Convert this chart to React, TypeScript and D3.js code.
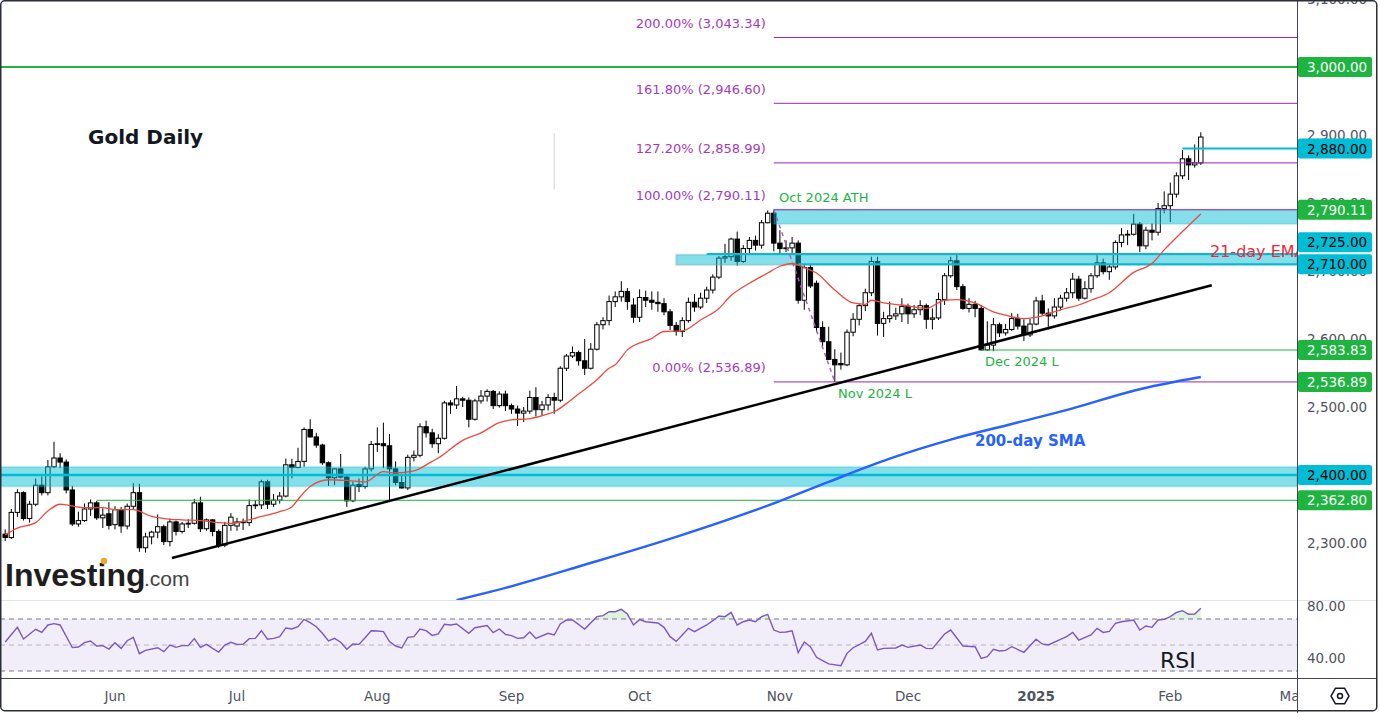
import * as d3 from "d3";

// daily candles, [open, high, low, close]
type Bar = [number, number, number, number];

const may: Bar[] = [
  [2313, 2320, 2303, 2308], [2308, 2350, 2306, 2345], [2345, 2379, 2338, 2374],
  [2374, 2376, 2333, 2336], [2336, 2362, 2330, 2357], [2357, 2395, 2354, 2385],
  [2385, 2398, 2370, 2374], [2374, 2422, 2370, 2412], [2412, 2449, 2410, 2425],
  [2425, 2432, 2410, 2419], [2419, 2423, 2373, 2378], [2378, 2384, 2325, 2328],
  [2328, 2346, 2324, 2333], [2333, 2358, 2331, 2350], [2350, 2364, 2340, 2359],
  [2359, 2362, 2334, 2337], [2337, 2351, 2322, 2341], [2343, 2360, 2320, 2326],
];
const jun: Bar[] = [
  [2327, 2354, 2320, 2349], [2349, 2353, 2315, 2325], [2325, 2358, 2320, 2354],
  [2354, 2388, 2350, 2374], [2374, 2387, 2287, 2293], [2293, 2315, 2286, 2309],
  [2309, 2318, 2298, 2316], [2316, 2342, 2307, 2324], [2324, 2327, 2297, 2302],
  [2302, 2336, 2295, 2331], [2331, 2333, 2311, 2317], [2317, 2331, 2314, 2328],
  [2328, 2335, 2322, 2329], [2329, 2365, 2327, 2359], [2359, 2368, 2316, 2321],
  [2321, 2336, 2318, 2334], [2334, 2335, 2310, 2317], [2317, 2320, 2293, 2297],
  [2297, 2331, 2294, 2326], [2326, 2344, 2318, 2338],
];
const jul: Bar[] = [
  [2325, 2337, 2318, 2331], [2331, 2336, 2319, 2330], [2330, 2364, 2325, 2355],
  [2355, 2363, 2350, 2356], [2356, 2393, 2350, 2390], [2390, 2393, 2350, 2357],
  [2357, 2372, 2353, 2363], [2363, 2375, 2358, 2369], [2369, 2424, 2367, 2415],
  [2415, 2424, 2395, 2411], [2411, 2440, 2410, 2420], [2420, 2470, 2412, 2467],
  [2467, 2482, 2455, 2456], [2456, 2462, 2440, 2444], [2444, 2446, 2415, 2418],
  [2418, 2420, 2384, 2396], [2396, 2410, 2385, 2409], [2409, 2431, 2395, 2397],
  [2397, 2400, 2353, 2362], [2362, 2390, 2360, 2385], [2386, 2395, 2375, 2383],
  [2383, 2412, 2380, 2409], [2409, 2450, 2405, 2445],
];
const aug: Bar[] = [
  [2445, 2470, 2434, 2446], [2446, 2477, 2410, 2443], [2443, 2460, 2363, 2409],
  [2409, 2420, 2385, 2389], [2389, 2402, 2380, 2381], [2381, 2430, 2378, 2426],
  [2426, 2436, 2420, 2429], [2429, 2476, 2426, 2471], [2471, 2480, 2455, 2462],
  [2462, 2468, 2440, 2446], [2446, 2460, 2432, 2454], [2454, 2509, 2452, 2506],
  [2506, 2510, 2490, 2503], [2503, 2531, 2497, 2512], [2512, 2515, 2500, 2510],
  [2510, 2514, 2470, 2482], [2482, 2512, 2480, 2509], [2509, 2525, 2505, 2516],
  [2516, 2526, 2508, 2523], [2523, 2525, 2497, 2502], [2502, 2523, 2499, 2519],
  [2519, 2524, 2494, 2502],
];
const sep: Bar[] = [
  [2502, 2505, 2490, 2497], [2497, 2502, 2472, 2491], [2491, 2500, 2478, 2494],
  [2494, 2524, 2490, 2514], [2514, 2529, 2486, 2496], [2496, 2509, 2488, 2503],
  [2503, 2519, 2495, 2514], [2514, 2521, 2490, 2510], [2510, 2560, 2507, 2557],
  [2557, 2578, 2553, 2575], [2575, 2589, 2572, 2580], [2580, 2583, 2561, 2568],
  [2568, 2600, 2547, 2557], [2557, 2594, 2555, 2585], [2585, 2625, 2583, 2621],
  [2621, 2632, 2614, 2627], [2627, 2664, 2620, 2655], [2655, 2670, 2647, 2662],
  [2662, 2685, 2655, 2670], [2670, 2675, 2643, 2655], [2650, 2660, 2624, 2632],
];
const oct: Bar[] = [
  [2632, 2673, 2625, 2661], [2661, 2671, 2647, 2657], [2657, 2670, 2643, 2654],
  [2654, 2670, 2640, 2652], [2652, 2660, 2635, 2640], [2640, 2644, 2613, 2620],
  [2620, 2625, 2605, 2611], [2611, 2632, 2603, 2627], [2627, 2661, 2624, 2654],
  [2654, 2666, 2640, 2647], [2647, 2668, 2644, 2660], [2660, 2677, 2653, 2672],
  [2672, 2695, 2667, 2691], [2691, 2722, 2688, 2719], [2719, 2740, 2712, 2721],
  [2721, 2749, 2715, 2747], [2747, 2758, 2708, 2714], [2714, 2738, 2712, 2733],
  [2733, 2750, 2725, 2745], [2745, 2752, 2730, 2738], [2738, 2775, 2733, 2771],
  [2771, 2789, 2770, 2785], [2785, 2790, 2729, 2741],
];
const nov: Bar[] = [
  [2741, 2760, 2725, 2733], [2733, 2745, 2728, 2734], [2734, 2750, 2725, 2741],
  [2741, 2745, 2652, 2657], [2657, 2710, 2643, 2705], [2705, 2709, 2675, 2678],
  [2682, 2686, 2610, 2617], [2617, 2626, 2589, 2596], [2596, 2618, 2569, 2570],
  [2570, 2585, 2537, 2562], [2564, 2580, 2555, 2562], [2562, 2614, 2560, 2610],
  [2610, 2638, 2604, 2629], [2629, 2652, 2620, 2649], [2649, 2674, 2641, 2668],
  [2668, 2721, 2663, 2714], [2714, 2721, 2605, 2623], [2623, 2640, 2603, 2630],
  [2630, 2655, 2624, 2634], [2634, 2646, 2628, 2637], [2637, 2660, 2625, 2648],
];
const dec: Bar[] = [
  [2648, 2652, 2622, 2637], [2637, 2650, 2631, 2643], [2643, 2657, 2635, 2649],
  [2649, 2652, 2615, 2629], [2629, 2645, 2614, 2631], [2631, 2668, 2628, 2658],
  [2658, 2697, 2650, 2693], [2693, 2721, 2690, 2715], [2715, 2726, 2672, 2677],
  [2677, 2681, 2643, 2645], [2645, 2660, 2639, 2651], [2651, 2656, 2632, 2645],
  [2645, 2650, 2583, 2584], [2584, 2626, 2583, 2591], [2591, 2631, 2582, 2621],
  [2621, 2624, 2603, 2609], [2609, 2622, 2605, 2614], [2614, 2638, 2612, 2630],
  [2630, 2637, 2614, 2619], [2619, 2629, 2597, 2606], [2606, 2630, 2603, 2622],
];
const jan: Bar[] = [
  [2622, 2662, 2620, 2656], [2656, 2665, 2635, 2638], [2638, 2645, 2614, 2634],
  [2634, 2660, 2630, 2647], [2647, 2665, 2642, 2660], [2660, 2675, 2655, 2668],
  [2668, 2697, 2660, 2688], [2688, 2693, 2656, 2660], [2660, 2685, 2658, 2674],
  [2674, 2697, 2668, 2693], [2693, 2724, 2690, 2712], [2712, 2718, 2695, 2699],
  [2699, 2710, 2687, 2706], [2706, 2745, 2702, 2742], [2742, 2763, 2735, 2753],
  [2753, 2760, 2738, 2754], [2754, 2784, 2752, 2769], [2769, 2772, 2728, 2737],
  [2737, 2765, 2732, 2760], [2760, 2770, 2745, 2757], [2757, 2800, 2752, 2792],
  [2792, 2817, 2785, 2796],
];
const feb: Bar[] = [
  [2796, 2830, 2772, 2813], [2813, 2845, 2808, 2840], [2840, 2878, 2835, 2865],
  [2865, 2870, 2834, 2856], [2856, 2886, 2852, 2859], [2859, 2904, 2856, 2897],
];

const START_DATE = new Date(2024, 4, 8);
const CLOSED_DAYS = ["2024-12-25", "2025-01-01"];

// indicator readings: [bar index, value]
const ema21: [number, number][] = [
  [0, 2312], [2, 2322], [5, 2330], [7, 2347], [9, 2357], [10, 2356], [13, 2352],
  [16, 2352], [18, 2349], [21, 2349], [24, 2339], [26, 2336], [29, 2334], [32, 2333],
  [35, 2330], [37, 2329], [40, 2334], [42, 2339], [45, 2346], [47, 2353], [48, 2364],
  [50, 2383], [53, 2393], [56, 2392], [59, 2390], [62, 2405], [64, 2403], [67, 2406],
  [70, 2420], [71, 2425], [75, 2451], [78, 2462], [81, 2477], [83, 2481], [86, 2483],
  [89, 2490], [90, 2493], [92, 2505], [94, 2519], [97, 2540], [99, 2557], [100, 2562],
  [102, 2584], [106, 2601], [108, 2611], [111, 2612], [114, 2628], [117, 2645],
  [119, 2664], [122, 2682], [125, 2697], [127, 2707], [129, 2711], [131, 2705],
  [133, 2697], [136, 2672], [139, 2653], [141, 2651], [142, 2657], [144, 2653],
  [147, 2650], [151, 2645], [154, 2657], [156, 2658], [159, 2653], [162, 2640],
  [164, 2635], [167, 2630], [170, 2634], [173, 2643], [176, 2650], [178, 2657],
  [181, 2668], [185, 2698], [188, 2711], [190, 2731], [193, 2758], [196, 2784],
];
const sma200: [number, number][] = [
  [74, 2216], [82, 2234], [95, 2268], [110, 2309], [125, 2355], [135, 2390],
  [145, 2424], [155, 2452], [165, 2475], [175, 2498], [185, 2524], [196, 2544],
];
const rsi14: [number, number][] = [
  [0, 52.3], [2, 63.6], [3, 54.6], [5, 62.1], [6, 59.7], [7, 65.4], [8, 66.4], [9, 65.4],
  [11, 48.0], [12, 48.5], [13, 51.8], [14, 53.1], [15, 49.2], [16, 49.5], [17, 46.9],
  [18, 51.8], [19, 47.4], [20, 53.3], [21, 55.9], [22, 43.3], [23, 45.9], [25, 47.9],
  [26, 44.9], [27, 50.0], [28, 48.2], [29, 49.5], [30, 49.5], [31, 54.9], [32, 48.2],
  [33, 50.5], [34, 47.4], [35, 44.6], [36, 50.0], [37, 52.1], [38, 50.5], [39, 50.5],
  [40, 54.9], [41, 55.1], [42, 61.0], [43, 54.4], [44, 55.1], [45, 56.4], [46, 63.1],
  [47, 62.3], [48, 64.1], [49, 69.7], [50, 67.2], [51, 64.1], [52, 59.0], [53, 53.1],
  [54, 55.1], [55, 52.1], [56, 46.7], [57, 50.8], [58, 50.5], [59, 55.6], [60, 61.0],
  [61, 60.8], [62, 60.3], [63, 52.6], [64, 49.2], [65, 47.7], [66, 55.9], [67, 56.4],
  [68, 62.3], [69, 61.0], [70, 57.4], [71, 58.5], [72, 65.9], [73, 65.4], [74, 66.2],
  [76, 59.0], [77, 63.3], [79, 64.9], [80, 59.5], [81, 62.3], [82, 58.2], [83, 57.2],
  [84, 55.1], [85, 55.6], [86, 60.0], [87, 55.1], [89, 59.0], [90, 57.7], [91, 66.2],
  [92, 69.2], [93, 69.2], [95, 62.3], [97, 71.8], [98, 72.6], [99, 75.6], [100, 75.6],
  [101, 77.4], [102, 73.8], [103, 65.4], [104, 69.5], [105, 67.9], [107, 66.9],
  [108, 63.6], [109, 56.4], [110, 52.8], [111, 57.7], [112, 62.8], [113, 60.3],
  [115, 65.4], [116, 68.7], [117, 72.3], [118, 71.8], [119, 75.1], [120, 65.4],
  [121, 67.9], [122, 69.2], [123, 67.9], [124, 71.8], [125, 73.6], [126, 61.5],
  [127, 59.7], [128, 60.0], [129, 61.0], [130, 44.1], [131, 52.3], [132, 48.7],
  [133, 40.5], [134, 38.0], [135, 35.5], [137, 34.1], [138, 43.6], [139, 47.9],
  [141, 52.8], [142, 59.0], [143, 46.2], [144, 47.4], [146, 47.7], [147, 50.0],
  [148, 48.2], [150, 50.0], [151, 47.4], [152, 47.2], [154, 58.5], [155, 61.5],
  [157, 49.2], [159, 48.7], [160, 39.7], [161, 41.0], [162, 46.7], [163, 45.4],
  [164, 45.9], [165, 48.7], [167, 44.4], [169, 54.4], [170, 50.8], [171, 50.0],
  [173, 54.4], [174, 56.4], [175, 59.7], [176, 53.8], [178, 57.7], [179, 62.8],
  [180, 59.7], [181, 60.5], [182, 66.7], [183, 67.9], [185, 69.2], [186, 61.5],
  [187, 64.6], [188, 63.6], [189, 69.2], [190, 69.7], [191, 71.8], [192, 75.0],
  [193, 76.4], [194, 73.6], [195, 73.8], [196, 78.2],
];

// fibonacci extension drawn from the Oct high to the Nov low
const fibLevels = [
  { pct: "200.00%", value: 3043.34 },
  { pct: "161.80%", value: 2946.6 },
  { pct: "127.20%", value: 2858.99 },
  { pct: "100.00%", value: 2790.11 },
  { pct: "0.00%", value: 2536.89 },
];
const FIB_FROM = 126; // Oct 31 high
const FIB_TO = 136; // Nov 14 low

const priceLabels = [
  { value: 3000, kind: "green" },
  { value: 2880, kind: "cyan" },
  { value: 2790.11, kind: "green" },
  { value: 2725, kind: "cyan" },
  { value: 2710, kind: "cyan" },
  { value: 2583.83, kind: "green" },
  { value: 2536.89, kind: "green" },
  { value: 2400, kind: "cyan" },
  { value: 2362.8, kind: "green" },
];
const priceTicks = [2300, 2400, 2500, 2600, 2700, 2800, 2900, 3000, 3100];
const rsiTicks = [40, 80];

const FONT = "DejaVu Sans";
const GREEN = "#1db43f";
const CYAN = "#00bcd4";
const PURPLE = "#9c27b0";
const PLOT_W = 1297;
const MAIN_H = 600;
const RSI_TOP = 600;
const RSI_BOT = 678;

export default function App() {
  const bars = [...may, ...jun, ...jul, ...aug, ...sep, ...oct, ...nov, ...dec, ...jan, ...feb];
  const n = bars.length;
  const fmtDay = d3.timeFormat("%Y-%m-%d");

  // trading days (weekdays) including a few future slots for the axis
  const dates: Date[] = [];
  const d = new Date(START_DATE);
  while (dates.length < n + 20) {
    const wd = d.getDay();
    if (wd !== 0 && wd !== 6 && !CLOSED_DAYS.includes(fmtDay(d))) dates.push(new Date(d));
    d.setDate(d.getDate() + 1);
  }

  const x = d3.scaleLinear().domain([0, n - 1]).range([5.2, 1200.8]);
  const y = d3.scaleLinear().domain([2300, 2900]).range([543, 135]);
  const yr = d3.scaleLinear().domain([30, 70]).range([671, 619]);
  const fmtPrice = d3.format(",.2f");

  const monthTicks: { i: number; label: string; bold: boolean }[] = [];
  for (let i = 1; i < dates.length; i++) {
    if (dates[i].getMonth() !== dates[i - 1].getMonth()) {
      const jan1 = dates[i].getMonth() === 0;
      monthTicks.push({ i, label: jan1 ? String(dates[i].getFullYear()) : d3.timeFormat("%b")(dates[i]), bold: jan1 });
    }
  }

  const emaPath = d3.line<[number, number]>().x((p) => x(p[0])).y((p) => y(p[1])).curve(d3.curveMonotoneX)(ema21)!;
  const smaPath = d3.line<[number, number]>().x((p) => x(p[0])).y((p) => y(p[1])).curve(d3.curveMonotoneX)(sma200)!;
  const rsiPath = d3.line<[number, number]>().x((p) => x(p[0])).y((p) => yr(p[1]))(rsi14)!;
  const rsiArea = d3.area<[number, number]>().x((p) => x(p[0])).y0(yr(70)).y1((p) => yr(p[1]))(rsi14)!;

  // stack the right-hand price labels so they do not overlap
  const placed = priceLabels
    .map((l) => ({ ...l, cy: y(l.value) }))
    .sort((a, b) => b.cy - a.cy);
  for (let i = 1; i < placed.length; i++) {
    if (placed[i - 1].cy - placed[i].cy < 22) placed[i].cy = placed[i - 1].cy - 22;
  }

  const trendA: [number, number] = [27.34, 2278];
  const trendB: [number, number] = [197.8, 2679];

  return (
    <svg width={1380} height={713} style={{ position: "absolute", left: 0, top: 0, background: "#fff" }} fontFamily={FONT}>
      <defs>
        <clipPath id="main"><rect x={0} y={0} width={PLOT_W} height={MAIN_H} /></clipPath>
        <clipPath id="rsi"><rect x={0} y={RSI_TOP} width={PLOT_W} height={RSI_BOT - RSI_TOP} /></clipPath>
        <clipPath id="ob"><rect x={0} y={RSI_TOP} width={PLOT_W} height={yr(70) - RSI_TOP} /></clipPath>
        <clipPath id="time"><rect x={0} y={RSI_BOT} width={PLOT_W} height={713 - RSI_BOT} /></clipPath>
      </defs>
      <rect x={0} y={0} width={1380} height={713} fill="#fff" />

      <g clipPath="url(#main)">
        {/* watermark */}
        <text x={5} y={586} fontFamily="Liberation Sans" fontWeight="bold" fontSize={32} fill="#1e1e1e">Investing</text>
        <circle cx={104} cy={561} r={3.2} fill="#f5a623" />
        <text x={144} y={586} fontFamily="Liberation Sans" fontSize={21} fill="#444">.com</text>

        <text x={88} y={137} fontWeight="bold" fontSize={20} fill="#131722" dominantBaseline="central">Gold Daily</text>

        {/* candles */}
        {bars.map(([o, h, l, c], i) => {
          const cx = x(i);
          const top = y(Math.max(o, c));
          const bot = y(Math.min(o, c));
          return (
            <g key={i}>
              <line x1={cx} x2={cx} y1={y(h)} y2={y(l)} stroke="#000" strokeWidth={1} />
              <rect x={cx - 2.2} y={top} width={4.4} height={Math.max(bot - top, 0.8)} fill={c >= o ? "#fff" : "#000"} stroke="#000" strokeWidth={1} />
            </g>
          );
        })}

        {/* zones */}
        <rect x={0} y={y(2412)} width={PLOT_W} height={y(2383) - y(2412)} fill="rgba(0,188,212,0.48)" stroke="rgba(0,188,212,0.2)" strokeWidth={2} />
        <rect x={x(FIB_FROM)} y={y(2790.11)} width={PLOT_W - x(FIB_FROM)} height={y(2769) - y(2790.11)} fill="rgba(0,188,212,0.48)" stroke="rgba(0,188,212,0.2)" strokeWidth={2} />
        <rect x={x(110)} y={y(2724)} width={PLOT_W - x(110)} height={y(2709) - y(2724)} fill="rgba(0,188,212,0.48)" stroke="rgba(120,160,180,0.35)" strokeWidth={2} />

        {/* horizontal levels */}
        <line x1={0} x2={PLOT_W} y1={y(3000)} y2={y(3000)} stroke={GREEN} strokeWidth={2} />
        <line x1={0} x2={PLOT_W} y1={y(2400)} y2={y(2400)} stroke={CYAN} strokeWidth={2.5} />
        <line x1={x(115)} x2={PLOT_W} y1={y(2725)} y2={y(2725)} stroke={CYAN} strokeWidth={2} />
        <line x1={x(130)} x2={PLOT_W} y1={y(2710)} y2={y(2710)} stroke={CYAN} strokeWidth={2} />
        <line x1={x(193)} x2={PLOT_W} y1={y(2880)} y2={y(2880)} stroke={CYAN} strokeWidth={2} />
        <line x1={x(160)} x2={PLOT_W} y1={y(2583.83)} y2={y(2583.83)} stroke={GREEN} strokeWidth={1} />
        <line x1={x(15)} x2={PLOT_W} y1={y(2362.8)} y2={y(2362.8)} stroke={GREEN} strokeWidth={1} />
        <line x1={x(90)} x2={x(90)} y1={y(2903)} y2={y(2820)} stroke="#d1d4dc" strokeWidth={1} />

        {/* fibonacci */}
        {fibLevels.map((f) => (
          <g key={f.pct}>
            <line x1={x(FIB_FROM)} x2={PLOT_W} y1={y(f.value)} y2={y(f.value)} stroke={PURPLE} strokeWidth={1} />
            <text x={x(FIB_FROM) - 8} y={y(f.value) - 14} textAnchor="end" dominantBaseline="central" fontSize={13} fill="#a43bbd">
              {`${f.pct} (${fmtPrice(f.value)})`}
            </text>
          </g>
        ))}
        <line x1={x(FIB_FROM)} y1={y(2790.11)} x2={x(FIB_TO)} y2={y(2536.89)} stroke="#ab5cc9" strokeWidth={1.5} strokeDasharray="4 4" />

        {/* trend line and averages */}
        <line x1={x(trendA[0])} y1={y(trendA[1])} x2={x(trendB[0])} y2={y(trendB[1])} stroke="#000" strokeWidth={2.5} />
        <path d={smaPath} fill="none" stroke="#2962ff" strokeWidth={2.5} />
        <path d={emaPath} fill="none" stroke="#f0483e" strokeWidth={1.3} />

        {/* annotations */}
        <text x={779} y={y(2790.11) - 12} dominantBaseline="central" fontSize={13} fill={GREEN}>Oct 2024 ATH</text>
        <text x={838} y={y(2536.89) + 12} dominantBaseline="central" fontSize={13} fill={GREEN}>Nov 2024 L</text>
        <text x={985} y={y(2583.83) + 12} dominantBaseline="central" fontSize={13} fill={GREEN}>Dec 2024 L</text>
        <text x={1210} y={y(2728)} dominantBaseline="central" fontSize={16} fill="#f0283a">21-day EMA</text>
        <text x={975} y={y(2450)} dominantBaseline="central" fontSize={15} fontWeight="bold" fill="#2962ff">200-day SMA</text>
      </g>

      {/* RSI pane */}
      <g clipPath="url(#rsi)">
        <rect x={0} y={yr(70)} width={PLOT_W} height={yr(30) - yr(70)} fill="#f2eef9" />
        <path d={rsiArea} fill="rgba(76,175,80,0.18)" clipPath="url(#ob)" />
        <line x1={0} x2={PLOT_W} y1={yr(70)} y2={yr(70)} stroke="#787b86" strokeDasharray="5 4" />
        <line x1={0} x2={PLOT_W} y1={yr(50)} y2={yr(50)} stroke="#b2b5be" strokeDasharray="5 4" />
        <line x1={0} x2={PLOT_W} y1={yr(30)} y2={yr(30)} stroke="#787b86" strokeDasharray="5 4" />
        <path d={rsiPath} fill="none" stroke="#7e57c2" strokeWidth={1.4} />
        <text x={1160} y={660} dominantBaseline="central" fontSize={22} fill="#131722">RSI</text>
      </g>

      {/* separators */}
      <line x1={0} x2={1377} y1={RSI_TOP + 0.5} y2={RSI_TOP + 0.5} stroke="#e0e3eb" strokeWidth={1} />
      <line x1={0} x2={1377} y1={RSI_BOT + 0.5} y2={RSI_BOT + 0.5} stroke="#434651" strokeWidth={1} />
      <line x1={PLOT_W + 0.5} x2={PLOT_W + 0.5} y1={0} y2={713} stroke="#434651" strokeWidth={1} />

      {/* price axis */}
      {priceTicks.map((t) => (
        <text key={t} x={1307} y={y(t)} dominantBaseline="central" fontSize={13.5} fill="#50535e">{fmtPrice(t)}</text>
      ))}
      {placed.map((l) => (
        <g key={l.value}>
          <rect x={1298} y={l.cy - 10} width={74} height={20} rx={2} fill={l.kind === "green" ? GREEN : CYAN} />
          <text x={1307} y={l.cy} dominantBaseline="central" fontSize={13.5} fill={l.kind === "green" ? "#fff" : "#000"}>{fmtPrice(l.value)}</text>
        </g>
      ))}
      {rsiTicks.map((t) => (
        <text key={t} x={1307} y={yr(t)} dominantBaseline="central" fontSize={13.5} fill="#50535e">{fmtPrice(t)}</text>
      ))}

      {/* time axis */}
      <g clipPath="url(#time)">
        {monthTicks.map((m) => (
          <text key={m.i} x={x(m.i)} y={696} textAnchor="middle" dominantBaseline="central" fontSize={13.5} fontWeight={m.bold ? "bold" : "normal"} fill="#50535e">{m.label}</text>
        ))}
      </g>

      {/* settings icon */}
      <path
        d={d3.range(6).map((k) => `${k ? "L" : "M"}${1340 + 9 * Math.cos((k * Math.PI) / 3)},${696 + 9 * Math.sin((k * Math.PI) / 3)}`).join("") + "Z"}
        fill="none" stroke="#131722" strokeWidth={1.5} strokeLinejoin="round"
      />
      <circle cx={1340} cy={696} r={2.5} fill="none" stroke="#131722" strokeWidth={1.5} />

      {/* frame */}
      <rect x={0.75} y={0.75} width={1376} height={710} rx={4} fill="none" stroke="#2a2e39" strokeWidth={1.5} />
    </svg>
  );
}
